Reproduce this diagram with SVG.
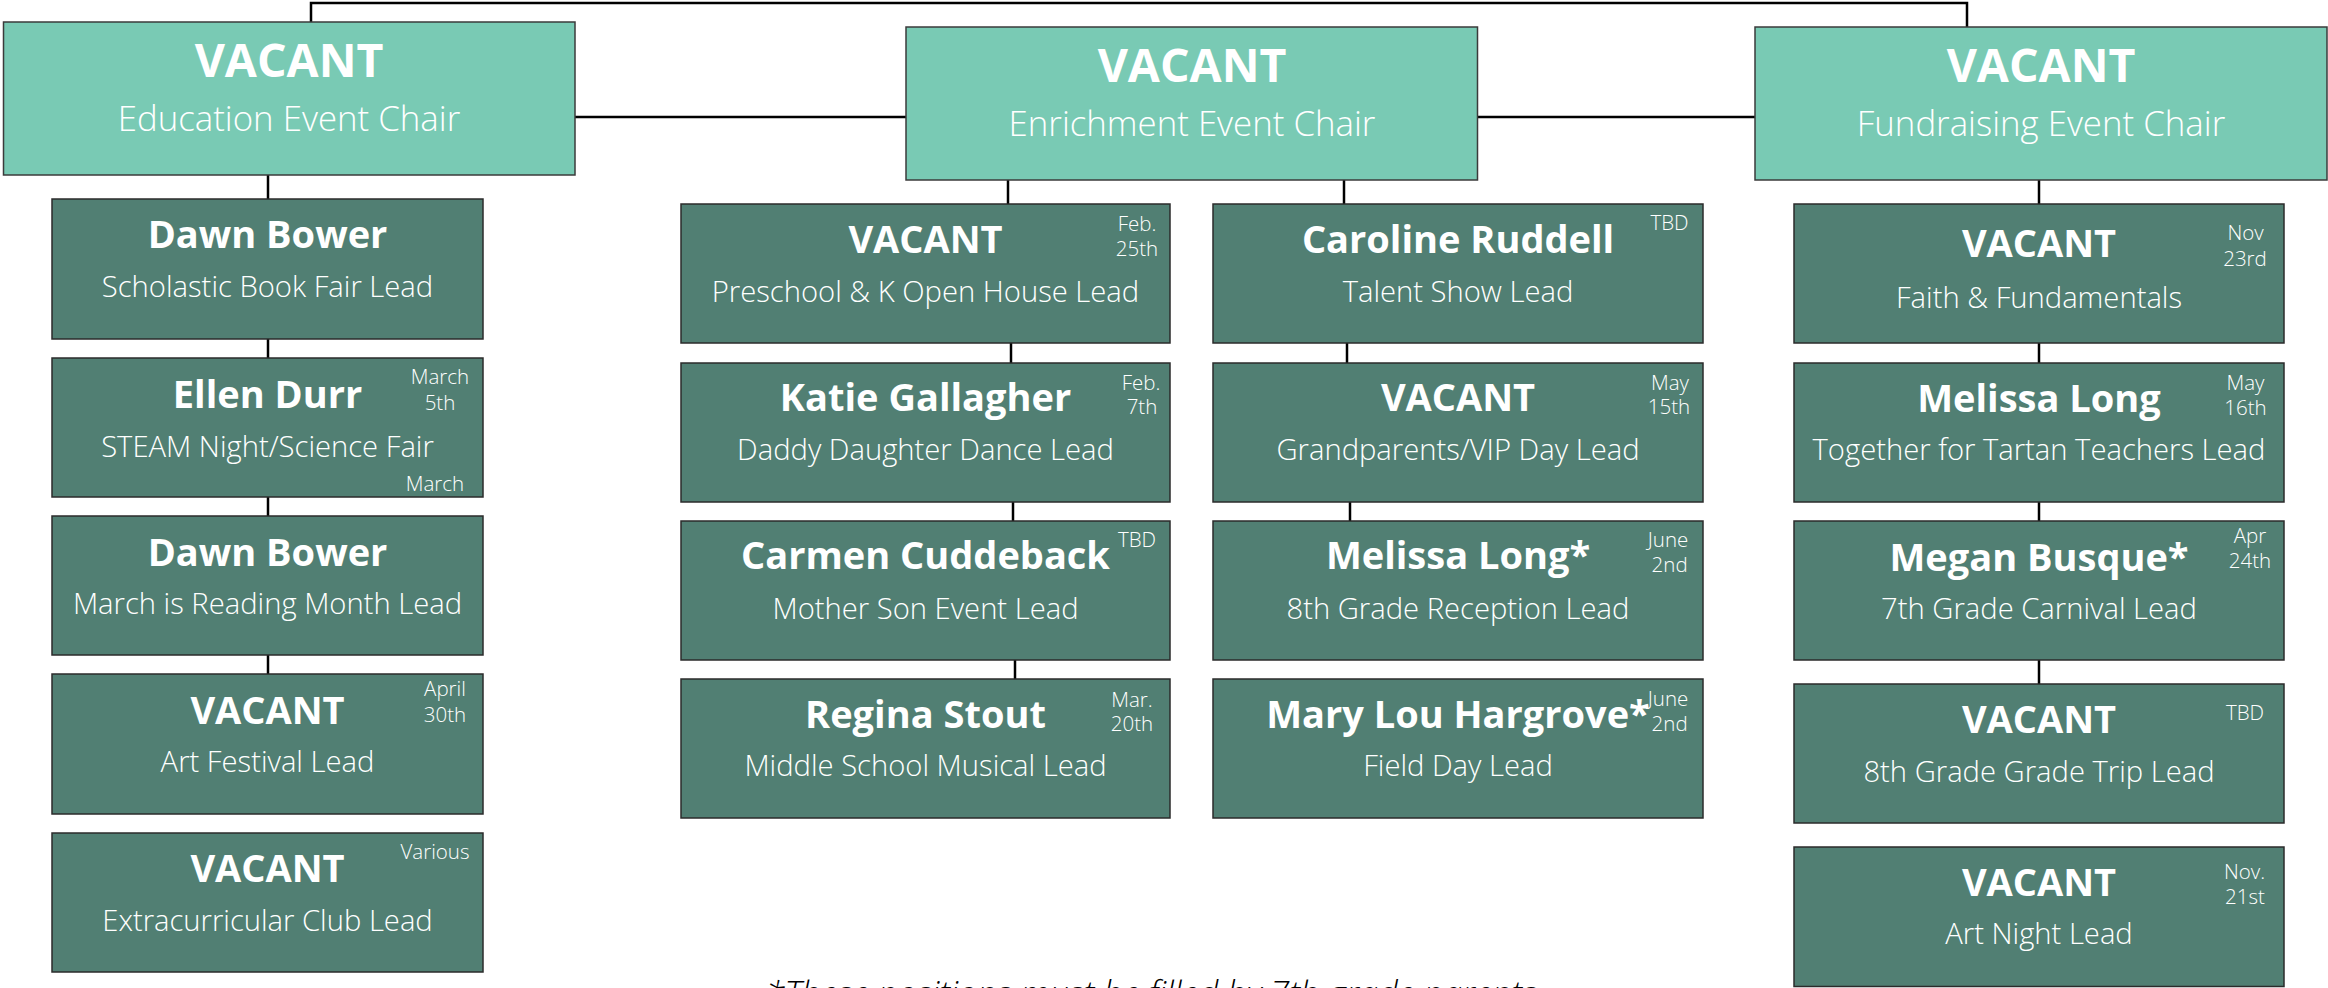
<svg xmlns="http://www.w3.org/2000/svg" width="2328" height="988" viewBox="0 0 2328 988">
<style>
.chair{fill:#79CAB4;stroke:#3b3b3b;stroke-width:1.5}
.lead{fill:#517F73;stroke:#2b2b2b;stroke-width:1.5}
text{fill:#fff;font-family:"Open Sans","Noto Sans",sans-serif;text-anchor:middle}
.ch{font-size:46.5px;font-weight:700}
.cs{font-size:34.8px;font-weight:300}
.nm{font-size:38px;font-weight:700}
.rl{font-size:29.2px;font-weight:300}
.dt{font-size:20.5px;font-weight:300}
.conn line,.conn path{stroke:#000;stroke-width:2.5;fill:none}
.note{fill:#000;font-style:italic;font-size:34.3px;font-weight:300;text-anchor:start}
</style>
<rect width="2328" height="988" fill="#fff"/>
<g id="connectors" class="conn">
<path d="M311,22 V3 H1967 V27"/>
<line x1="575" y1="117" x2="906" y2="117"/>
<line x1="1477" y1="117" x2="1755" y2="117"/>
<line x1="268" y1="175" x2="268" y2="199"/>
<line x1="268" y1="339" x2="268" y2="358"/>
<line x1="268" y1="497" x2="268" y2="516"/>
<line x1="268" y1="655" x2="268" y2="674"/>
<line x1="1008" y1="180" x2="1008" y2="204"/>
<line x1="1011" y1="343" x2="1011" y2="363"/>
<line x1="1013" y1="502" x2="1013" y2="521"/>
<line x1="1015" y1="660" x2="1015" y2="679"/>
<line x1="1344" y1="180" x2="1344" y2="204"/>
<line x1="1347" y1="343" x2="1347" y2="363"/>
<line x1="1350" y1="502" x2="1350" y2="521"/>
<line x1="2039" y1="180" x2="2039" y2="204"/>
<line x1="2039" y1="343" x2="2039" y2="363"/>
<line x1="2039" y1="502" x2="2039" y2="521"/>
<line x1="2039" y1="660" x2="2039" y2="684"/>
</g>
<g id="chair-education"><rect class="chair" x="3.5" y="22" width="571.5" height="153"/><text class="ch" x="289" y="77">VACANT</text><text class="cs" x="289" y="131">Education Event Chair</text></g>
<g id="chair-enrichment"><rect class="chair" x="906" y="27" width="571.5" height="153"/><text class="ch" x="1192" y="82">VACANT</text><text class="cs" x="1192" y="136">Enrichment Event Chair</text></g>
<g id="chair-fundraising"><rect class="chair" x="1755" y="27" width="572" height="153"/><text class="ch" x="2041" y="82">VACANT</text><text class="cs" x="2041" y="136">Fundraising Event Chair</text></g>

<g id="edu-1"><rect class="lead" x="52" y="199" width="431" height="140"/><text class="nm" x="267.5" y="248">Dawn Bower</text><text class="rl" x="267.5" y="297">Scholastic Book Fair Lead</text></g>
<g id="edu-2"><rect class="lead" x="52" y="358" width="431" height="139"/><text class="nm" x="267.5" y="408">Ellen Durr</text><text class="rl" x="267.5" y="456.5">STEAM Night/Science Fair</text><text class="dt" x="440" y="384">March</text><text class="dt" x="440" y="410">5th</text><text class="dt" x="435" y="491">March</text></g>
<g id="edu-3"><rect class="lead" x="52" y="516" width="431" height="139"/><text class="nm" x="267.5" y="566">Dawn Bower</text><text class="rl" x="267.5" y="614">March is Reading Month Lead</text></g>
<g id="edu-4"><rect class="lead" x="52" y="674" width="431" height="140"/><text class="nm" x="267.5" y="723.5">VACANT</text><text class="rl" x="267.5" y="772">Art Festival Lead</text><text class="dt" x="445" y="696">April</text><text class="dt" x="445" y="722">30th</text></g>
<g id="edu-5"><rect class="lead" x="52" y="833" width="431" height="139"/><text class="nm" x="267.5" y="882">VACANT</text><text class="rl" x="267.5" y="931">Extracurricular Club Lead</text><text class="dt" x="435" y="859">Various</text></g>

<g id="enr-1"><rect class="lead" x="681" y="204" width="489" height="139"/><text class="nm" x="925.5" y="253.3">VACANT</text><text class="rl" x="925.5" y="301.7">Preschool &amp; K Open House Lead</text><text class="dt" x="1137" y="231">Feb.</text><text class="dt" x="1137" y="256">25th</text></g>
<g id="enr-2"><rect class="lead" x="681" y="363" width="489" height="139"/><text class="nm" x="925.5" y="411">Katie Gallagher</text><text class="rl" x="925.5" y="460">Daddy Daughter Dance Lead</text><text class="dt" x="1141" y="389.6">Feb.</text><text class="dt" x="1142" y="414.4">7th</text></g>
<g id="enr-3"><rect class="lead" x="681" y="521" width="489" height="139"/><text class="nm" x="925.5" y="569.3">Carmen Cuddeback</text><text class="rl" x="925.5" y="619">Mother Son Event Lead</text><text class="dt" x="1137" y="546.6">TBD</text></g>
<g id="enr-4"><rect class="lead" x="681" y="679" width="489" height="139"/><text class="nm" x="925.5" y="728.4">Regina Stout</text><text class="rl" x="925.5" y="776">Middle School Musical Lead</text><text class="dt" x="1132" y="706.5">Mar.</text><text class="dt" x="1132" y="730.5">20th</text></g>

<g id="enr-5"><rect class="lead" x="1213" y="204" width="490" height="139"/><text class="nm" x="1458" y="253.3">Caroline Ruddell</text><text class="rl" x="1458" y="301.7">Talent Show Lead</text><text class="dt" x="1669.5" y="230">TBD</text></g>
<g id="enr-6"><rect class="lead" x="1213" y="363" width="490" height="139"/><text class="nm" x="1458" y="411">VACANT</text><text class="rl" x="1458" y="460">Grandparents/VIP Day Lead</text><text class="dt" x="1670" y="389.6">May</text><text class="dt" x="1669" y="414.4">15th</text></g>
<g id="enr-7"><rect class="lead" x="1213" y="521" width="490" height="139"/><text class="nm" x="1458" y="569.3">Melissa Long*</text><text class="rl" x="1458" y="619">8th Grade Reception Lead</text><text class="dt" x="1668" y="546.6">June</text><text class="dt" x="1669.6" y="572">2nd</text></g>
<g id="enr-8"><rect class="lead" x="1213" y="679" width="490" height="139"/><text class="nm" x="1458" y="728.4">Mary Lou Hargrove*</text><text class="rl" x="1458" y="776">Field Day Lead</text><text class="dt" x="1668" y="705.7">June</text><text class="dt" x="1669.6" y="730.5">2nd</text></g>

<g id="fund-1"><rect class="lead" x="1794" y="204" width="490" height="139"/><text class="nm" x="2039" y="256.7">VACANT</text><text class="rl" x="2039" y="308">Faith &amp; Fundamentals</text><text class="dt" x="2245.5" y="240">Nov</text><text class="dt" x="2245" y="265.7">23rd</text></g>
<g id="fund-2"><rect class="lead" x="1794" y="363" width="490" height="139"/><text class="nm" x="2039" y="412.3">Melissa Long</text><text class="rl" x="2039" y="459.8">Together for Tartan Teachers Lead</text><text class="dt" x="2245.5" y="389.6">May</text><text class="dt" x="2245.5" y="415">16th</text></g>
<g id="fund-3"><rect class="lead" x="1794" y="521" width="490" height="139"/><text class="nm" x="2039" y="570.6">Megan Busque*</text><text class="rl" x="2039" y="619">7th Grade Carnival Lead</text><text class="dt" x="2250" y="543.3">Apr</text><text class="dt" x="2250" y="568">24th</text></g>
<g id="fund-4"><rect class="lead" x="1794" y="684" width="490" height="139"/><text class="nm" x="2039" y="733.4">VACANT</text><text class="rl" x="2039" y="782">8th Grade Grade Trip Lead</text><text class="dt" x="2245" y="720">TBD</text></g>
<g id="fund-5"><rect class="lead" x="1794" y="847" width="490" height="139.5"/><text class="nm" x="2039" y="895.8">VACANT</text><text class="rl" x="2039" y="944">Art Night Lead</text><text class="dt" x="2244.6" y="879.3">Nov.</text><text class="dt" x="2245" y="904">21st</text></g>

<text class="note" x="766" y="1006">*These positions must be filled by 7th grade parents</text>
</svg>
